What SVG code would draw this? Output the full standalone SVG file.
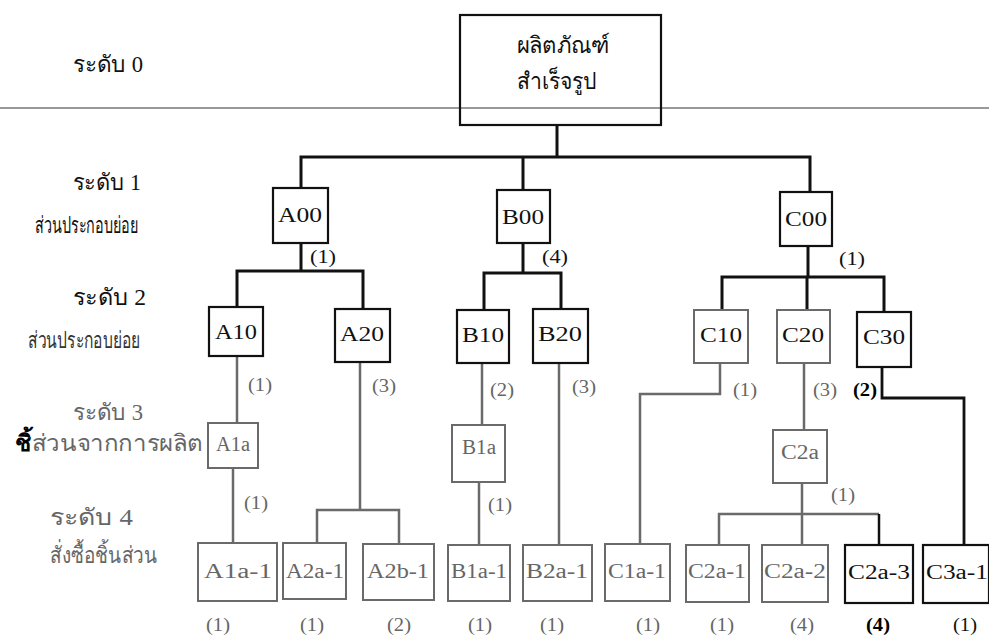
<svg xmlns="http://www.w3.org/2000/svg" width="989" height="641" viewBox="0 0 989 641">
<style>
text{font-family:"Liberation Serif","DejaVu Serif",serif;}
.lvl{font-size:23px;fill:#111;}
.lvlg{font-size:23px;fill:#666;}
.box{fill:#fff;stroke:#111;stroke-width:2.2;}
.boxg{fill:#fff;stroke:#6a6a6a;stroke-width:2;}
.lab{font-size:20px;fill:#111;text-anchor:middle;}
.labg{font-size:20px;fill:#666;text-anchor:middle;}
.q{font-size:18px;fill:#111;text-anchor:middle;}
.qg{font-size:18px;fill:#666;text-anchor:middle;}
.qb{font-size:18px;fill:#000;text-anchor:middle;font-weight:bold;}
.ck{fill:none;stroke:#111;stroke-width:3;}
.cg{fill:none;stroke:#6a6a6a;stroke-width:2.5;}
</style>
<rect width="989" height="641" fill="#fff"/>
<g id="levels">
<text class="lvl" x="73" y="72" textLength="70" lengthAdjust="spacingAndGlyphs">ระดับ 0</text>
<text class="lvl" x="73" y="190" textLength="68" lengthAdjust="spacingAndGlyphs">ระดับ 1</text>
<text class="lvl" x="35" y="233" textLength="103" lengthAdjust="spacingAndGlyphs">ส่วนประกอบย่อย</text>
<text class="lvl" x="73" y="305" textLength="73" lengthAdjust="spacingAndGlyphs">ระดับ 2</text>
<text class="lvl" x="28" y="348" textLength="112" lengthAdjust="spacingAndGlyphs" style="fill:#333">ส่วนประกอบย่อย</text>
<text class="lvlg" x="73" y="420" textLength="70" lengthAdjust="spacingAndGlyphs">ระดับ 3</text>
<text class="lvlg" x="15" y="451" textLength="188" lengthAdjust="spacingAndGlyphs"><tspan style="fill:#000;font-weight:bold">ชิ้</tspan>ส่วนจากการผลิต</text>
<text class="lvlg" x="50" y="525" textLength="83" lengthAdjust="spacingAndGlyphs">ระดับ 4</text>
<text class="lvlg" x="50" y="563" textLength="107" lengthAdjust="spacingAndGlyphs">สั่งซื้อชิ้นส่วน</text>
</g>
<line x1="0" y1="108" x2="989" y2="108" stroke="#777" stroke-width="1.5"/>
<g id="connectors">
<path class="ck" d="M557 125V157M301 188V157H810V192M523 157V190"/>
<path class="ck" d="M301 243V271M237 307V271H363V309"/>
<path class="ck" d="M523 243V273M484 310V273H561V309"/>
<path class="ck" d="M808 246V277M722 310V277H884V312M807 277V310"/>
<path class="cg" d="M237 356V423"/>
<path class="cg" d="M233 468V543"/>
<path class="cg" d="M360 362V510M317 543V510H399V544"/>
<path class="cg" d="M482 363V425"/>
<path class="cg" d="M479 482V545"/>
<path class="cg" d="M559 363V545"/>
<path class="cg" d="M720 363V394H640V544"/>
<path class="cg" d="M804 363V430"/>
<path class="cg" d="M802 483V545M719 545V514H879"/>
<path class="ck" d="M879 514V545" style="stroke-width:2.5"/>
<path class="ck" d="M882 367V398H964V545" style="stroke-width:2.8"/>
</g>
<g id="root">
<rect class="box" x="460" y="15" width="201" height="110" style="fill:none"/>
<text class="lab" x="563" y="53" style="font-size:23px" textLength="93" lengthAdjust="spacingAndGlyphs">ผลิตภัณฑ์</text>
<text class="lab" x="557" y="89" style="font-size:23px" textLength="80" lengthAdjust="spacingAndGlyphs">สำเร็จรูป</text>
</g>
<g id="A00"><rect class="box" x="273" y="188" width="55" height="55"/><text class="lab" x="300" y="222" textLength="44" lengthAdjust="spacingAndGlyphs">A00</text></g>
<g id="B00"><rect class="box" x="497" y="190" width="53" height="53"/><text class="lab" x="523" y="224" textLength="42" lengthAdjust="spacingAndGlyphs">B00</text></g>
<g id="C00"><rect class="box" x="780" y="192" width="52" height="54"/><text class="lab" x="806" y="226" textLength="42" lengthAdjust="spacingAndGlyphs">C00</text></g>
<g id="A10"><rect class="box" x="209" y="307" width="54" height="49"/><text class="lab" x="236" y="339" textLength="42" lengthAdjust="spacingAndGlyphs">A10</text></g>
<g id="A20"><rect class="box" x="335" y="309" width="55" height="53"/><text class="lab" x="362" y="341" textLength="44" lengthAdjust="spacingAndGlyphs">A20</text></g>
<g id="B10"><rect class="box" x="457" y="310" width="52" height="53"/><text class="lab" x="483" y="342" textLength="42" lengthAdjust="spacingAndGlyphs">B10</text></g>
<g id="B20"><rect class="box" x="533" y="309" width="55" height="54"/><text class="lab" x="560" y="341" textLength="44" lengthAdjust="spacingAndGlyphs">B20</text></g>
<g id="C10"><rect class="boxg" x="694" y="310" width="54" height="53"/><text class="lab" x="721" y="342" textLength="42" lengthAdjust="spacingAndGlyphs">C10</text></g>
<g id="C20"><rect class="boxg" x="777" y="310" width="53" height="53"/><text class="lab" x="803" y="342" textLength="42" lengthAdjust="spacingAndGlyphs">C20</text></g>
<g id="C30"><rect class="box" x="857" y="312" width="54" height="55"/><text class="lab" x="884" y="344" textLength="42" lengthAdjust="spacingAndGlyphs">C30</text></g>
<g id="A1a"><rect class="boxg" x="208" y="423" width="50" height="45"/><text class="labg" x="233" y="451" textLength="34" lengthAdjust="spacingAndGlyphs">A1a</text></g>
<g id="B1a"><rect class="boxg" x="452" y="425" width="53" height="57"/><text class="labg" x="479" y="454" textLength="34" lengthAdjust="spacingAndGlyphs">B1a</text></g>
<g id="C2a"><rect class="boxg" x="773" y="430" width="54" height="53"/><text class="labg" x="800" y="459" textLength="38" lengthAdjust="spacingAndGlyphs">C2a</text></g>
<g id="A1a-1"><rect class="boxg" x="198" y="543" width="79" height="58"/><text class="labg" x="238" y="578" textLength="68" lengthAdjust="spacingAndGlyphs">A1a-1</text></g>
<g id="A2a-1"><rect class="boxg" x="283" y="543" width="63" height="56"/><text class="labg" x="315" y="578" textLength="58" lengthAdjust="spacingAndGlyphs">A2a-1</text></g>
<g id="A2b-1"><rect class="boxg" x="363" y="544" width="71" height="56"/><text class="labg" x="398" y="578" textLength="62" lengthAdjust="spacingAndGlyphs">A2b-1</text></g>
<g id="B1a-1"><rect class="boxg" x="448" y="545" width="62" height="56"/><text class="labg" x="479" y="578" textLength="56" lengthAdjust="spacingAndGlyphs">B1a-1</text></g>
<g id="B2a-1"><rect class="boxg" x="523" y="545" width="69" height="56"/><text class="labg" x="557" y="578" textLength="62" lengthAdjust="spacingAndGlyphs">B2a-1</text></g>
<g id="C1a-1"><rect class="boxg" x="605" y="544" width="65" height="57"/><text class="labg" x="637" y="578" textLength="58" lengthAdjust="spacingAndGlyphs">C1a-1</text></g>
<g id="C2a-1"><rect class="boxg" x="686" y="545" width="63" height="57"/><text class="labg" x="717" y="578" textLength="58" lengthAdjust="spacingAndGlyphs">C2a-1</text></g>
<g id="C2a-2"><rect class="boxg" x="762" y="545" width="66" height="57"/><text class="labg" x="795" y="578" textLength="62" lengthAdjust="spacingAndGlyphs">C2a-2</text></g>
<g id="C2a-3"><rect class="box" x="845" y="545" width="68" height="58"/><text class="lab" x="879" y="579" textLength="62" lengthAdjust="spacingAndGlyphs">C2a-3</text></g>
<g id="C3a-1"><rect class="box" x="923" y="545" width="66" height="58"/><text class="lab" x="957" y="579" textLength="62" lengthAdjust="spacingAndGlyphs">C3a-1</text></g>
<g id="quantities">
<text class="q" x="323" y="263" textLength="26" lengthAdjust="spacingAndGlyphs">(1)</text>
<text class="q" x="555" y="263" textLength="26" lengthAdjust="spacingAndGlyphs">(4)</text>
<text class="q" x="852" y="265" textLength="26" lengthAdjust="spacingAndGlyphs">(1)</text>
<text class="qg" x="260" y="391" textLength="24" lengthAdjust="spacingAndGlyphs">(1)</text>
<text class="qg" x="384" y="392" textLength="24" lengthAdjust="spacingAndGlyphs">(3)</text>
<text class="qg" x="502" y="396" textLength="24" lengthAdjust="spacingAndGlyphs">(2)</text>
<text class="qg" x="584" y="393" textLength="24" lengthAdjust="spacingAndGlyphs">(3)</text>
<text class="qg" x="745" y="396" textLength="24" lengthAdjust="spacingAndGlyphs">(1)</text>
<text class="qg" x="825" y="396" textLength="24" lengthAdjust="spacingAndGlyphs">(3)</text>
<text class="qb" x="865" y="396" textLength="24" lengthAdjust="spacingAndGlyphs">(2)</text>
<text class="qg" x="256" y="509" textLength="24" lengthAdjust="spacingAndGlyphs">(1)</text>
<text class="qg" x="500" y="511" textLength="24" lengthAdjust="spacingAndGlyphs">(1)</text>
<text class="qg" x="843" y="501" textLength="24" lengthAdjust="spacingAndGlyphs">(1)</text>
<text class="qg" x="218" y="631" textLength="24" lengthAdjust="spacingAndGlyphs">(1)</text>
<text class="qg" x="312" y="631" textLength="24" lengthAdjust="spacingAndGlyphs">(1)</text>
<text class="qg" x="399" y="631" textLength="24" lengthAdjust="spacingAndGlyphs">(2)</text>
<text class="qg" x="480" y="631" textLength="24" lengthAdjust="spacingAndGlyphs">(1)</text>
<text class="qg" x="552" y="631" textLength="24" lengthAdjust="spacingAndGlyphs">(1)</text>
<text class="qg" x="648" y="631" textLength="24" lengthAdjust="spacingAndGlyphs">(1)</text>
<text class="qg" x="722" y="631" textLength="24" lengthAdjust="spacingAndGlyphs">(1)</text>
<text class="qg" x="802" y="631" textLength="24" lengthAdjust="spacingAndGlyphs">(4)</text>
<text class="qb" x="878" y="631" textLength="24" lengthAdjust="spacingAndGlyphs">(4)</text>
<text class="q" x="965" y="631" textLength="24" lengthAdjust="spacingAndGlyphs">(1)</text>
</g>
</svg>
